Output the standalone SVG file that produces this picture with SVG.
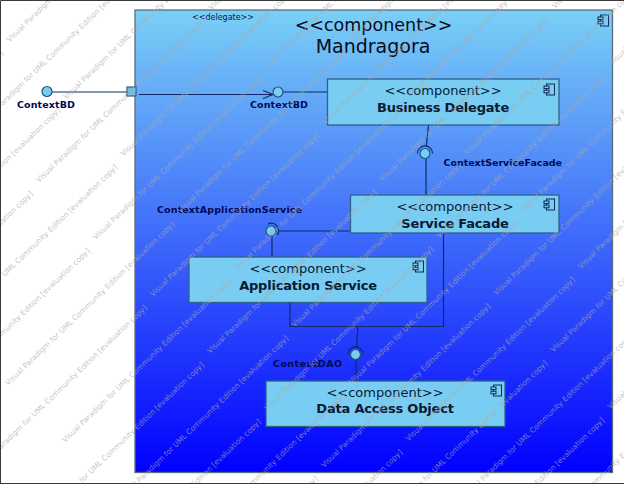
<svg xmlns="http://www.w3.org/2000/svg" width="624" height="484" viewBox="0 0 624 484">
<style>
text{font-family:"DejaVu Sans","Liberation Sans",sans-serif}
.st{font-size:13px;text-anchor:middle;fill:#0a1a33}
.nm{font-size:13px;font-weight:bold;text-anchor:middle;fill:#0a1a33;letter-spacing:-.2px}
.lb{font-size:9.5px;font-weight:bold;fill:#000a55}
.node{fill:#79cdf2;stroke:#2f5f8a;stroke-width:1.3}
.conn{fill:none;stroke:#0f2a66;stroke-width:1.2}
.ball{fill:#79cdf2;stroke:#1f5580;stroke-width:1.2}
.ico{fill:none;stroke:#0f2a55;stroke-width:1}
.wm{font-size:7.5px;fill:#aaa;fill-opacity:.7}
</style>
<defs>
<linearGradient id="g" x1="0" y1="0" x2="0" y2="1"><stop offset="0" stop-color="#7ad0f6"/><stop offset="1" stop-color="#0000ff"/></linearGradient>
<marker id="open" markerWidth="14" markerHeight="10" refX="11" refY="5" orient="auto" markerUnits="userSpaceOnUse"><path d="M1 1L11 5L1 9" fill="none" stroke="#0f2a66" stroke-width="1.1"/></marker>
<g id="icon" class="ico"><rect x="2.5" y="0" width="8" height="11"/><rect x="0" y="2" width="5" height="2.6" fill="#79cdf2"/><rect x="0" y="6.2" width="5" height="2.6" fill="#79cdf2"/></g>
<text id="w" class="wm" textLength="232" lengthAdjust="spacingAndGlyphs">Visual Paradigm for UML Community Edition [evaluation copy]</text>
</defs>
<rect x="0" y="0" width="624" height="484" fill="#fff"/>
<g id="mandragora">
<rect x="135" y="10" width="477.500" height="462.500" fill="url(#g)" stroke="#5a6c80" stroke-width="1.3"/>
<text x="373.500" y="31" text-anchor="middle" font-size="17.500" fill="#0a0a1a">&lt;&lt;component&gt;&gt;</text>
<text x="373" y="53" text-anchor="middle" font-size="19" fill="#0a0a1a">Mandragora</text>
<use href="#icon" x="598" y="15"/>
<text x="223" y="20" text-anchor="middle" font-size="8" fill="#0a1a55">&lt;&lt;delegate&gt;&gt;</text>
</g>
<g id="connectors" class="conn">
<path d="M52 92H127"/>
<path d="M139 94.500H273" marker-end="url(#open)"/>
<path d="M283 92H328"/>
<path d="M428.500 125L426.300 146"/>
<path d="M426 159V195"/>
<path d="M350 231H279"/>
<path d="M272 236V257"/>
<path d="M290 302V326.500H443.500V233"/>
<path d="M358 326.500L356.500 347"/>
<path d="M356 360V381"/>
<path d="M417.400 153.500A7.600 7.600 0 0 1 432.600 153.500"/>
<path d="M347.900 354.500A7.600 7.600 0 0 1 363.100 354.500"/>
<path d="M268 224A7.600 7.600 0 0 1 277.600 234.800"/>
</g>
<g id="port"><rect x="127" y="87" width="9" height="9" fill="#6fc0e2" stroke="#2f5f8a" stroke-width="1.2"/></g>
<g id="if-contextbd-outer"><circle class="ball" cx="47" cy="91.500" r="5"/><text class="lb" x="17" y="108" textLength="58">ContextBD</text></g>
<g id="if-contextbd-inner"><circle class="ball" cx="278" cy="92" r="5"/><text class="lb" x="250" y="108" textLength="58">ContextBD</text></g>
<g id="if-servicefacade"><circle class="ball" cx="425" cy="153.500" r="5"/><text class="lb" x="443.500" y="166" textLength="118.500">ContextServiceFacade</text></g>
<g id="if-applicationservice"><circle class="ball" cx="271" cy="231" r="5"/><text class="lb" x="157" y="213" textLength="145">ContextApplicationService</text></g>
<g id="if-dao"><circle class="ball" cx="355.500" cy="354.500" r="5"/><text class="lb" x="273" y="367" textLength="69">ContextDAO</text></g>
<g id="business-delegate"><rect class="node" x="327.500" y="79" width="231.500" height="46"/><text class="st" x="443" y="95">&lt;&lt;component&gt;&gt;</text><text class="nm" x="443" y="112">Business Delegate</text><use href="#icon" x="544" y="84"/></g>
<g id="service-facade"><rect class="node" x="350.500" y="195" width="208.500" height="38"/><text class="st" x="455" y="211">&lt;&lt;component&gt;&gt;</text><text class="nm" x="455" y="228">Service Facade</text><use href="#icon" x="544" y="199"/></g>
<g id="application-service"><rect class="node" x="189" y="257" width="238" height="45.500"/><text class="st" x="308" y="273">&lt;&lt;component&gt;&gt;</text><text class="nm" x="308" y="290">Application Service</text><use href="#icon" x="413" y="261"/></g>
<g id="data-access-object"><rect class="node" x="266" y="381" width="239" height="45.500"/><text class="st" x="385" y="397">&lt;&lt;component&gt;&gt;</text><text class="nm" x="385" y="413">Data Access Object</text><use href="#icon" x="491" y="385"/></g>
<g id="watermark">
<use href="#w" transform="translate(-18 126) rotate(-44)"/><use href="#w" transform="translate(39 183) rotate(-44)"/><use href="#w" transform="translate(211.500 10.500) rotate(-44)"/><use href="#w" transform="translate(-133.500 355.500) rotate(-44)"/>
<use href="#w" transform="translate(96 240) rotate(-44)"/><use href="#w" transform="translate(268.500 67.500) rotate(-44)"/><use href="#w" transform="translate(-76.500 412.500) rotate(-44)"/>
<use href="#w" transform="translate(153 297) rotate(-44)"/><use href="#w" transform="translate(325.500 124.500) rotate(-44)"/><use href="#w" transform="translate(-19.500 469.500) rotate(-44)"/>
<use href="#w" transform="translate(210 354) rotate(-44)"/><use href="#w" transform="translate(382.500 181.500) rotate(-44)"/><use href="#w" transform="translate(555 9) rotate(-44)"/><use href="#w" transform="translate(37.500 526.500) rotate(-44)"/>
<use href="#w" transform="translate(267 411) rotate(-44)"/><use href="#w" transform="translate(439.500 238.500) rotate(-44)"/><use href="#w" transform="translate(612 66) rotate(-44)"/><use href="#w" transform="translate(94.500 583.500) rotate(-44)"/>
<use href="#w" transform="translate(324 468) rotate(-44)"/><use href="#w" transform="translate(496.500 295.500) rotate(-44)"/><use href="#w" transform="translate(151.500 640.500) rotate(-44)"/>
<use href="#w" transform="translate(381 525) rotate(-44)"/><use href="#w" transform="translate(553.500 352.500) rotate(-44)"/>
<use href="#w" transform="translate(438 582) rotate(-44)"/><use href="#w" transform="translate(610.500 409.500) rotate(-44)"/><use href="#w" transform="translate(495 639) rotate(-44)"/>
<use href="#w" transform="translate(9.500 42.500) rotate(-44)"/><use href="#w" transform="translate(-163 215) rotate(-44)"/>
<use href="#w" transform="translate(66.500 99.500) rotate(-44)"/><use href="#w" transform="translate(-106 272) rotate(-44)"/>
<use href="#w" transform="translate(123.500 156.500) rotate(-44)"/><use href="#w" transform="translate(-49 329) rotate(-44)"/>
<use href="#w" transform="translate(180.500 213.500) rotate(-44)"/><use href="#w" transform="translate(353 41) rotate(-44)"/><use href="#w" transform="translate(8 386) rotate(-44)"/>
<use href="#w" transform="translate(237.500 270.500) rotate(-44)"/><use href="#w" transform="translate(410 98) rotate(-44)"/><use href="#w" transform="translate(65 443) rotate(-44)"/>
<use href="#w" transform="translate(294.500 327.500) rotate(-44)"/><use href="#w" transform="translate(467 155) rotate(-44)"/><use href="#w" transform="translate(122 500) rotate(-44)"/>
<use href="#w" transform="translate(351.500 384.500) rotate(-44)"/><use href="#w" transform="translate(524 212) rotate(-44)"/><use href="#w" transform="translate(179 557) rotate(-44)"/>
<use href="#w" transform="translate(408.500 441.500) rotate(-44)"/><use href="#w" transform="translate(581 269) rotate(-44)"/><use href="#w" transform="translate(236 614) rotate(-44)"/>
<use href="#w" transform="translate(465.500 498.500) rotate(-44)"/><use href="#w" transform="translate(522.500 555.500) rotate(-44)"/><use href="#w" transform="translate(579.500 612.500) rotate(-44)"/>
</g>
<path d="M.5 484V.5H624M0 483.500H624" fill="none" stroke="#3a3a3a"/>
</svg>
